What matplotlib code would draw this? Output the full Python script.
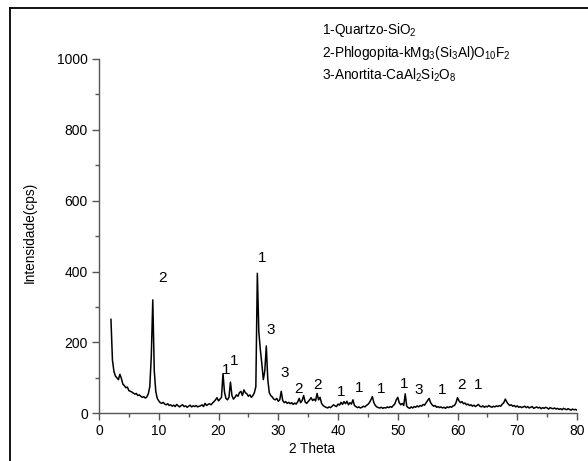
import numpy as np
import matplotlib
matplotlib.use("Agg")
import matplotlib.pyplot as plt
from matplotlib.lines import Line2D
from matplotlib.ticker import MultipleLocator

plt.rcParams['font.family'] = ['Liberation Sans', 'DejaVu Sans']
plt.rcParams['mathtext.default'] = 'regular'

# 2-theta sampling grid (degrees)
theta_start = 2.0
theta_step = 0.25

# Intensity (cps), one value per 0.25 deg from 2 to 80
intensity = [
    265, 150, 118, 105, 100, 95, 110, 98, 82, 78, 72, 74, 64, 62, 60, 57, 54, 56, 50, 52,        # 2.00-6.75
    48, 45, 47, 43, 46, 55, 75, 160, 320, 120, 62, 42, 35, 30, 28, 31, 26, 24, 27, 22,          # 7.00-11.75
    24, 20, 23, 19, 25, 21, 18, 22, 24, 19, 21, 17, 20, 23, 18, 21, 19, 22, 18, 20,             # 12.00-16.75
    21, 24, 19, 28, 22, 25, 27, 24, 29, 33, 38, 44, 35, 40, 45, 112, 60, 42, 38, 45,            # 17.00-21.75
    88, 50, 40, 45, 52, 48, 58, 62, 50, 66, 58, 55, 48, 52, 45, 50, 58, 75, 395, 230,           # 22.00-26.75
    180, 140, 95, 120, 190, 95, 58, 50, 46, 40, 38, 42, 34, 38, 62, 36, 30, 33, 28, 31,         # 27.00-31.75
    27, 30, 25, 29, 26, 32, 42, 30, 36, 50, 32, 28, 33, 38, 44, 36, 40, 35, 56, 38,             # 32.00-36.75
    45, 28, 22, 19, 17, 15, 18, 16, 20, 24, 21, 19, 26, 23, 31, 25, 33, 27, 34, 24,             # 37.00-41.75
    30, 26, 38, 22, 19, 16, 18, 15, 17, 20, 18, 22, 25, 30, 38, 47, 30, 22, 18, 16,             # 42.00-46.75
    15, 17, 14, 16, 15, 18, 16, 19, 17, 22, 26, 38, 45, 30, 24, 28, 22, 55, 20, 16,             # 47.00-51.75
    14, 18, 15, 19, 17, 21, 18, 22, 20, 25, 23, 30, 36, 42, 30, 24, 20, 22, 17, 19,             # 52.00-56.75
    16, 18, 15, 17, 14, 18, 16, 19, 17, 21, 22, 30, 44, 35, 30, 33, 27, 29, 24, 26,             # 57.00-61.75
    22, 24, 20, 23, 19, 22, 25, 20, 18, 21, 17, 20, 18, 22, 19, 17, 20, 18, 21, 19,             # 62.00-66.75
    22, 20, 26, 30, 40, 32, 26, 22, 24, 20, 22, 18, 21, 17, 19, 16, 18, 20, 16, 19,             # 67.00-71.75
    15, 17, 19, 14, 16, 18, 15, 17, 13, 16, 14, 17, 15, 12, 16, 14, 13, 15, 12, 14,             # 72.00-76.75
    11, 13, 10, 14, 12, 10, 13, 11, 9, 12, 10, 11, 9,                                           # 77.00-80.00
]

# Peak labels (phase number) and where they sit (2theta, cps)
peak_labels = ['2', '1', '1', '1', '3', '3', '2', '2', '1', '1', '1', '1', '3', '1', '2', '1']
peak_label_x = [10.6, 21.2, 22.6, 27.3, 28.8, 31.0, 33.4, 36.6, 40.6, 43.6, 47.2, 51.1, 53.5, 57.5, 60.7, 63.5]
peak_label_y = [382, 122, 148, 438, 235, 114, 68, 80, 61, 70, 68, 82, 66, 66, 80, 80]

legend_lines = [
    "1-Quartzo-SiO$_2$",
    "2-Phlogopita-kMg$_3$(Si$_3$Al)O$_{10}$F$_2$",
    "3-Anortita-CaAl$_2$Si$_2$O$_8$",
]

x_ticks = [0, 10, 20, 30, 40, 50, 60, 70, 80]
y_ticks = [0, 200, 400, 600, 800, 1000]

W, H = 588, 461
fig = plt.figure(figsize=(W / 100, H / 100), dpi=100)
ax = fig.add_axes([99 / W, 1 - 413.3 / H, (577 - 99) / W, (413.3 - 58.8) / H])

theta = theta_start + theta_step * np.arange(len(intensity))
ax.plot(theta, intensity, color='black', linewidth=1.1)

ax.set_xlim(0, 80)
ax.set_ylim(0, 1000)
ax.set_xticks(x_ticks)
ax.set_yticks(y_ticks)
ax.xaxis.set_minor_locator(MultipleLocator(5))
ax.yaxis.set_minor_locator(MultipleLocator(100))
for s in ['top', 'right']:
    ax.spines[s].set_visible(False)
for s in ['left', 'bottom']:
    ax.spines[s].set_color('#555555')
    ax.spines[s].set_linewidth(1.0)
ax.tick_params(which='major', direction='out', length=5, width=1.0, color='#555555',
               labelsize=10, labelcolor='black', pad=3)
ax.tick_params(which='minor', direction='out', length=3, width=1.0, color='#555555')

for lab, px, py in zip(peak_labels, peak_label_x, peak_label_y):
    ax.text(px, py, lab, ha='center', va='center', fontsize=11, color='black')

for i, line in enumerate(legend_lines):
    fig.text(322 / W, 1 - (30 + 22.5 * i) / H, line, ha='left', va='center', fontsize=9.8)

fig.text(30 / W, 1 - 232 / H, "Intensidade(cps)", rotation=90, ha='center', va='center', fontsize=9.8)
fig.text(312 / W, 1 - 449 / H, "2 Theta", ha='center', va='center', fontsize=9.8)

# outer frame (left and top edges visible in the picture)
fig.add_artist(Line2D([10 / W, 10 / W], [0, 1 - 8 / H], transform=fig.transFigure, color='black', linewidth=1.3))
fig.add_artist(Line2D([10 / W, 1], [1 - 8 / H, 1 - 8 / H], transform=fig.transFigure, color='black', linewidth=1.3))

fig.savefig("out.png", dpi=100, facecolor='white')
